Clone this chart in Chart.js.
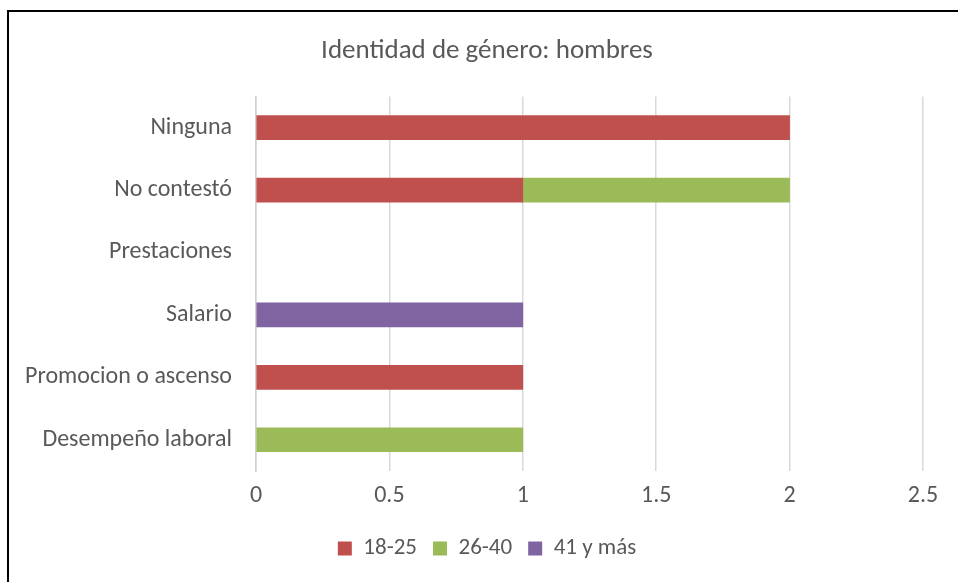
<!DOCTYPE html>
<html>
<head>
<meta charset="utf-8">
<title>Identidad de género: hombres</title>
<script src="https://cdn.jsdelivr.net/npm/chart.js@4.4.1/dist/chart.umd.min.js"></script>
<style>
  html, body { margin: 0; padding: 0; background: #fff; overflow: hidden; }
  body { width: 958px; height: 582px; position: relative; }
  #marco {
    position: absolute; left: 7px; top: 10px;
    width: 970px; height: 590px;
    border-left: 2px solid #000; border-top: 2px solid #000;
  }
  #caja { position: absolute; left: 0; top: 0; width: 956px; height: 570px; }
</style>
</head>
<body>
<div id="marco"><div id="caja"><canvas id="grafico"></canvas></div></div>
<script>
// Categorías (de arriba hacia abajo) y valores por grupo de edad
const categorias = ['Ninguna', 'No contestó', 'Prestaciones', 'Salario', 'Promocion o ascenso', 'Desempeño laboral'];
const edad18a25 = [2, 1, 0, 0, 1, 0];
const edad26a40 = [0, 1, 0, 0, 0, 1];
const edad41mas = [0, 0, 0, 1, 0, 0];
const marcasX = [0, 0.5, 1, 1.5, 2, 2.5];

const fuente = 'Carlito, Calibri, Lato, sans-serif';
const gris = '#595959';

// los ceros no se dibujan (evita barras de ancho nulo)
const sinCeros = arr => arr.map(v => v === 0 ? null : v);

const ctx = document.getElementById('grafico').getContext('2d');
const grafico = new Chart(ctx, {
    type: 'bar',
    data: {
        labels: categorias,
        datasets: [
            { label: '18-25', data: sinCeros(edad18a25), backgroundColor: '#C0504D' },
            { label: '26-40', data: sinCeros(edad26a40), backgroundColor: '#9BBB59' },
            { label: '41 y más', data: sinCeros(edad41mas), backgroundColor: '#8064A2' }
        ]
    },
    options: {
        indexAxis: 'y',
        responsive: true,
        maintainAspectRatio: false,
        animation: false,
        datasets: { bar: { barThickness: 24 } },
        layout: { padding: { left: 0, right: 0, top: 0, bottom: 12 } },
        plugins: {
            title: {
                display: true,
                text: 'Identidad de género: hombres',
                color: gris,
                font: { family: fuente, size: 27, weight: 'normal' },
                padding: { top: 23, bottom: 29 }
            },
            legend: {
                position: 'bottom',
                labels: {
                    color: gris,
                    font: { family: fuente, size: 23 },
                    boxWidth: 14,
                    boxHeight: 14,
                    padding: 16
                }
            },
            tooltip: { enabled: false }
        },
        scales: {
            x: {
                stacked: true,
                min: 0,
                max: 2.5,
                afterBuildTicks: s => { s.ticks = marcasX.map(v => ({ value: v })); },
                afterFit: s => { s.height = 50; },
                ticks: {
                    color: gris,
                    font: { family: fuente, size: 24 },
                    padding: 11,
                    callback: v => String(v)
                },
                grid: { color: '#d9d9d9', lineWidth: 1.5, drawTicks: false },
                border: { display: false }
            },
            y: {
                stacked: true,
                afterFit: s => { s.width = 247; },
                ticks: {
                    color: gris,
                    font: { family: fuente, size: 24 },
                    padding: 24
                },
                grid: { display: false, drawTicks: false },
                border: { color: '#d0d0d0', width: 1.5 }
            },
            // margen derecho vacío, deja el título centrado en todo el recuadro
            margenDer: {
                type: 'linear',
                axis: 'y',
                position: 'right',
                afterFit: s => { s.width = 42; },
                ticks: { display: false },
                grid: { display: false, drawTicks: false },
                border: { display: false }
            }
        }
    }
});
</script>
</body>
</html>
